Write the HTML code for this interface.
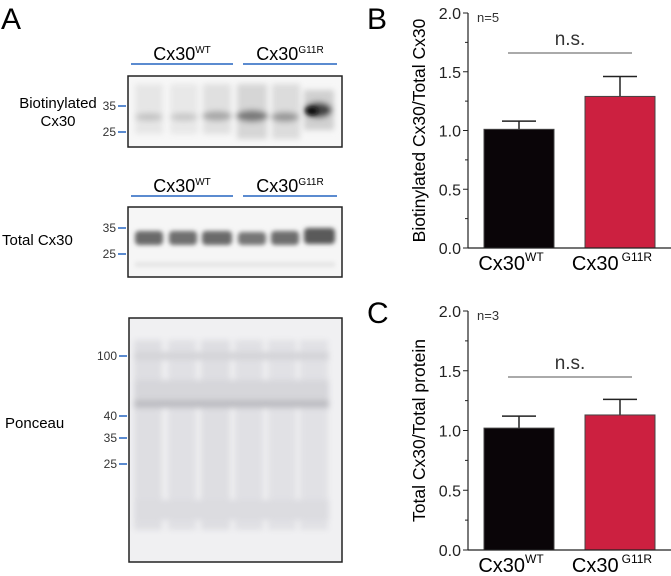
<!DOCTYPE html>
<html><head><meta charset="utf-8"><style>
body{margin:0;background:#fff;width:671px;height:576px;overflow:hidden;font-family:"Liberation Sans",sans-serif}
svg{position:absolute;left:0;top:0}
</style></head><body>
<svg id="fig" width="671" height="576" viewBox="0 0 671 576" font-family="Liberation Sans, sans-serif">
<defs>
<filter id="bl" x="-50%" y="-50%" width="200%" height="200%"><feGaussianBlur stdDeviation="3"/></filter>
<filter id="bl2" x="-50%" y="-50%" width="200%" height="200%"><feGaussianBlur stdDeviation="2.2"/></filter>
</defs>
<text x="1" y="29" font-size="30">A</text>
<g>
<text x="182" y="60" font-size="18" text-anchor="middle">Cx30<tspan font-size="10" dy="-7">WT</tspan></text>
<text x="290" y="60" font-size="18" text-anchor="middle">Cx30<tspan font-size="10" dy="-7">G11R</tspan></text>
<line x1="131" y1="64" x2="233" y2="64" stroke="#5b8bd0" stroke-width="2"/>
<line x1="243" y1="64" x2="337" y2="64" stroke="#5b8bd0" stroke-width="2"/>
<rect x="128" y="76" width="214" height="71" fill="#f7f7f7"/>
<g filter="url(#bl)">
<rect x="135" y="84" width="28" height="50" fill="#e6e6e6"/><rect x="170" y="84" width="28" height="50" fill="#e8e8e8"/><rect x="203" y="84" width="28" height="50" fill="#e0e0e0"/>
<rect x="237" y="84" width="30" height="55" fill="#d6d6d6"/><rect x="272" y="84" width="28" height="55" fill="#dcdcdc"/><rect x="304" y="90" width="30" height="40" fill="#d0d0d0"/>
<ellipse cx="149" cy="117" rx="14" ry="4" fill="#c4c4c4"/><ellipse cx="184" cy="117" rx="14" ry="4" fill="#c8c8c8"/><ellipse cx="217" cy="116" rx="15" ry="5" fill="#a8a8a8"/>
<ellipse cx="252" cy="116" rx="16" ry="6" fill="#7a7a7a"/><ellipse cx="285" cy="117" rx="14" ry="5" fill="#999"/><ellipse cx="318" cy="110" rx="14" ry="8" fill="#444"/>
</g>
<ellipse cx="312" cy="111" rx="6" ry="4" fill="#111" filter="url(#bl2)"/>
<rect x="128" y="76" width="214" height="71" fill="none" stroke="#222" stroke-width="1.5"/>
<text x="58" y="108" font-size="15" text-anchor="middle">Biotinylated</text>
<text x="58" y="126" font-size="15" text-anchor="middle">Cx30</text>
<text x="116" y="110" font-size="12" text-anchor="end" fill="#333">35</text>
<text x="116" y="136" font-size="12" text-anchor="end" fill="#333">25</text>
<line x1="118" y1="106" x2="126" y2="106" stroke="#5b8bd0" stroke-width="2"/>
<line x1="118" y1="132" x2="126" y2="132" stroke="#5b8bd0" stroke-width="2"/>
</g>
<g>
<text x="182" y="192" font-size="18" text-anchor="middle">Cx30<tspan font-size="10" dy="-7">WT</tspan></text>
<text x="290" y="192" font-size="18" text-anchor="middle">Cx30<tspan font-size="10" dy="-7">G11R</tspan></text>
<line x1="131" y1="196" x2="233" y2="196" stroke="#5b8bd0" stroke-width="2"/>
<line x1="243" y1="196" x2="337" y2="196" stroke="#5b8bd0" stroke-width="2"/>
<rect x="128" y="207" width="214" height="70" fill="#f6f6f6"/>
<g filter="url(#bl2)">
<rect x="135" y="231" width="28" height="14" rx="4" fill="#6a6a6a"/><rect x="169" y="231" width="28" height="14" rx="4" fill="#707070"/><rect x="202" y="231" width="30" height="14" rx="4" fill="#6a6a6a"/>
<rect x="238" y="232" width="28" height="13" rx="4" fill="#777"/><rect x="271" y="231" width="28" height="14" rx="4" fill="#6e6e6e"/><rect x="304" y="228" width="31" height="16" rx="4" fill="#5a5a5a"/>
<rect x="135" y="262" width="200" height="5" fill="#e4e4e4"/>
</g>
<rect x="128" y="207" width="214" height="70" fill="none" stroke="#222" stroke-width="1.5"/>
<text x="2" y="245" font-size="15">Total Cx30</text>
<text x="116" y="232" font-size="12" text-anchor="end" fill="#333">35</text>
<text x="116" y="258" font-size="12" text-anchor="end" fill="#333">25</text>
<line x1="118" y1="228" x2="126" y2="228" stroke="#5b8bd0" stroke-width="2"/>
<line x1="118" y1="254" x2="126" y2="254" stroke="#5b8bd0" stroke-width="2"/>
</g>
<g>
<rect x="129" y="318" width="213" height="244" fill="#f0f0f2"/>
<g filter="url(#bl)">
<rect x="134" y="340" width="28" height="190" fill="#dedee2"/><rect x="168" y="340" width="28" height="190" fill="#e0e0e4"/><rect x="201" y="340" width="29" height="190" fill="#dedee2"/>
<rect x="235" y="340" width="28" height="190" fill="#e0e0e4"/><rect x="268" y="340" width="28" height="190" fill="#e1e1e5"/><rect x="300" y="340" width="28" height="190" fill="#e1e1e5"/>
<rect x="134" y="352" width="195" height="8" fill="#d4d4d8"/>
<rect x="134" y="380" width="195" height="20" fill="#d6d6da"/>
<rect x="134" y="400" width="195" height="8" fill="#bdbdc2"/>
<rect x="134" y="500" width="195" height="20" fill="#dcdce0"/>
</g>
<rect x="129" y="318" width="213" height="244" fill="none" stroke="#222" stroke-width="1.5"/>
<text x="5" y="428" font-size="15">Ponceau</text>
<text x="117" y="360" font-size="12" text-anchor="end" fill="#333">100</text>
<text x="117" y="420" font-size="12" text-anchor="end" fill="#333">40</text>
<text x="117" y="442" font-size="12" text-anchor="end" fill="#333">35</text>
<text x="117" y="468" font-size="12" text-anchor="end" fill="#333">25</text>
<line x1="119" y1="356" x2="127" y2="356" stroke="#5b8bd0" stroke-width="2"/>
<line x1="119" y1="416" x2="127" y2="416" stroke="#5b8bd0" stroke-width="2"/>
<line x1="119" y1="438" x2="127" y2="438" stroke="#5b8bd0" stroke-width="2"/>
<line x1="119" y1="464" x2="127" y2="464" stroke="#5b8bd0" stroke-width="2"/>
</g>
<text x="367" y="29" font-size="30">B</text>
<text x="367" y="323" font-size="30">C</text>
<g id="chartB"></g>
<g id="chartC"></g>
</svg>
<script>
const categories = ["Cx30", "Cx30"];
const categorySups = ["WT", "G11R"];
const seriesB = [1.01, 1.29];
const errorsB = [0.07, 0.17];
const seriesC = [1.02, 1.13];
const errorsC = [0.10, 0.13];
const yTicks = [0.0, 0.5, 1.0, 1.5, 2.0];
const yTickLabels = ["0.0", "0.5", "1.0", "1.5", "2.0"];
const colors = ["#0a0508", "#cc2040"];
const NS = "http://www.w3.org/2000/svg";
function mk(p, tag, at, txt) {
  const e = document.createElementNS(NS, tag);
  for (const k in at) e.setAttribute(k, at[k]);
  if (txt !== undefined) e.textContent = txt;
  p.appendChild(e); return e;
}
function chart(gid, top, bottom, vals, errs, title, nLabel, nsY) {
  const g = document.getElementById(gid);
  const ax = 468, xEnd = 671;
  const y = v => bottom - (v / 2) * (bottom - top);
  const barX = i => [484, 585][i];
  const barW = 70;
  vals.forEach((v, i) => {
    const x = barX(i), cx = x + barW / 2;
    const eb = mk(g, "line", {x1: cx, x2: cx, y1: y(v), y2: y(v + errs[i]), stroke: "#222", "stroke-width": 1.5});
    
    
    const cap = mk(g, "line", {x1: cx - 17, x2: cx + 17, y1: y(v + errs[i]), y2: y(v + errs[i]), stroke: "#222", "stroke-width": 1.5});
    
    
    const r = mk(g, "rect", {x: x, y: y(v), width: barW, height: bottom - y(v), fill: colors[i], stroke: "#444", "stroke-width": 1});
    
    
    const t = mk(g, "text", {x: cx - 8, y: bottom + 22, "font-size": 20, "text-anchor": "middle"});
    
    
    t.appendChild(document.createTextNode(categories[i]));
    mk(t, "tspan", {"font-size": 12, dy: -9, dx: i ? 3 : 0}, categorySups[i]);
  });
  const yl = mk(g, "line", {x1: ax, x2: ax, y1: top, y2: bottom, stroke: "#222", "stroke-width": 1.2});
  
  
  const xl = mk(g, "line", {x1: ax, x2: xEnd, y1: bottom, y2: bottom, stroke: "#222", "stroke-width": 1.2});
  
  
  yTicks.forEach((v, i) => {
    const tl = mk(g, "line", {x1: ax - 5, x2: ax, y1: y(v), y2: y(v), stroke: "#222"});
    
    
    if (i < yTicks.length - 1) {
      const m = mk(g, "line", {x1: ax - 3, x2: ax, y1: y(v + 0.25), y2: y(v + 0.25), stroke: "#222"});
      
      
    }
    const lb = mk(g, "text", {x: ax - 7, y: y(v) + 6, "font-size": 16, "text-anchor": "end", fill: "#222"}, yTickLabels[i]);
    
    
  });
  const tt = mk(g, "text", {x: 0, y: 0, "font-size": 17.5, "text-anchor": "middle", transform: `translate(425,${(top + bottom) / 2}) rotate(-90)`}, title);
  
  
  const n = mk(g, "text", {x: 477, y: top + 9, "font-size": 13, fill: "#333"}, nLabel);
  
  
  const sl = mk(g, "line", {x1: 508, x2: 632, y1: nsY, y2: nsY, stroke: "#555", "stroke-width": 1});
  
  
  const st = mk(g, "text", {x: 570, y: nsY - 8, "font-size": 19, "text-anchor": "middle", fill: "#333"}, "n.s.");
  
  
}
chart("chartB", 13, 248, seriesB, errorsB, "Biotinylated Cx30/Total Cx30", "n=5", 53);
chart("chartC", 311, 550, seriesC, errorsC, "Total Cx30/Total protein", "n=3", 377);
</script>
</body></html>
